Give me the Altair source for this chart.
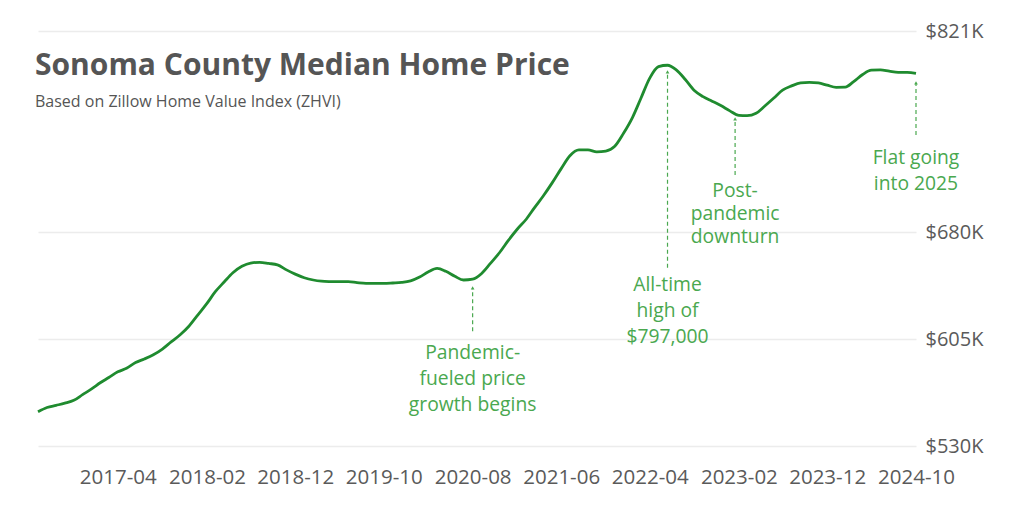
import altair as alt
import pandas as pd

# ---- data (values in $K, monthly from 2016-07 to 2024-10) ----
start = "2016-07-01"
values_k = [
    554, 557, 558.5, 560, 562, 566, 570, 574.5, 578, 582,
    584.5, 588.5, 591, 594, 598, 603, 608, 614, 622, 630,
    638, 645, 651.5, 656, 658.3, 658.8, 658, 657, 653.5, 650.5,
    648, 646.4, 645.6, 645.3, 645.2, 645.2, 644.6, 644.1, 644, 644,
    644.3, 644.7, 645.8, 648.5, 652, 654.5, 652.5, 649, 646.4, 647,
    651, 658, 665.5, 674, 682, 689, 697, 705.5, 714.5, 724.5,
    733.5, 737.6, 737.6, 736.3, 736.8, 740, 749.3, 760.5, 773.5, 788,
    796, 797, 793.7, 787, 779.3, 775, 771.8, 768.7, 765, 761.8,
    761.6, 763.3, 768.4, 774, 779.5, 782.5, 784.6, 785, 784.6, 783,
    781.5, 781.6, 785.5, 790.5, 793.5, 793.7, 792.8, 792, 792, 791.3,
]
dates = pd.date_range(start, periods=len(values_k), freq="MS").strftime("%Y/%m/%d").tolist()

y_ticks = [530, 605, 680, 821]
x_tick_dates = ["2017-04", "2018-02", "2018-12", "2019-10", "2020-08",
                "2021-06", "2022-04", "2023-02", "2023-12", "2024-10"]

title_text = "Sonoma County Median Home Price"
subtitle_text = "Based on Zillow Home Value Index (ZHVI)"

ann_dates = ["2020/08/01", "2022/06/01", "2023/01/19", "2024/10/01"]
ann_from = [610.5, 655.0, 720.0, 748.0]
ann_to = [640.8, 792.3, 759.3, 784.6]
ann_text_top = [601.2, 649.3, 715.3, 738.0]
ann_texts = ["Pandemic-\nfueled price\ngrowth begins",
             "All-time\nhigh of\n$797,000",
             "Post-\npandemic\ndownturn",
             "Flat going\ninto 2025"]
ann_line_height = [26, 26, 23, 26]

# ---- tables ----
df = pd.DataFrame({"date": dates, "value": values_k})
ann = pd.DataFrame({"date": ann_dates, "y1": ann_from, "y2": ann_to,
                    "ty": ann_text_top, "text": ann_texts, "lh": ann_line_height})

LINE = "#1f8b2f"
ANN = "#4aa84f"
GRAY = "#5a5a5a"
FONT = "Open Sans"

tick_vals = [alt.DateTime(year=int(s[:4]), month=int(s[5:]), date=1) for s in x_tick_dates]

x_enc = alt.X("date:T",
              scale=alt.Scale(domain=[alt.DateTime(year=2016, month=7, date=1),
                                      alt.DateTime(year=2024, month=10, date=1)]),
              axis=alt.Axis(values=tick_vals, labelExpr="timeFormat(datum.value, '%Y-%m')",
                            grid=False, domain=False, ticks=False, title=None,
                            labelFont=FONT, labelFontSize=20.5, labelColor=GRAY,
                            labelPadding=21, labelOverlap=False, labelFlush=False))
y_scale = alt.Scale(domain=[530, 821], nice=False, zero=False)

line = alt.Chart(df).mark_line(color=LINE, strokeWidth=2.8, interpolate="monotone").encode(
    x=x_enc,
    y=alt.Y("value:Q", scale=y_scale,
            axis=alt.Axis(orient="right", values=y_ticks, labelExpr="'$' + datum.value + 'K'",
                          domain=False, ticks=False, title=None, gridColor="#ececec",
                          gridWidth=1.5,
                          labelFont=FONT, labelFontSize=20, labelColor=GRAY,
                          labelPadding=9))
)

rules = alt.Chart(ann).mark_rule(color=ANN, strokeWidth=1.2, strokeDash=[4, 3]).encode(
    x="date:T", y=alt.Y("y1:Q", scale=y_scale), y2="y2:Q")

heads = alt.Chart(ann).mark_point(shape="triangle-up", filled=True, color=ANN, size=14,
                                  opacity=1).encode(
    x="date:T", y=alt.Y("y2:Q", scale=y_scale))

def ann_text(sub, lh):
    return alt.Chart(sub).mark_text(lineBreak="\n", align="center", baseline="top",
                                    font=FONT, fontSize=19.3, color=ANN,
                                    lineHeight=lh).encode(
        x="date:T", y=alt.Y("ty:Q", scale=y_scale), text="text:N")

texts = [ann_text(ann[ann.lh == lh], lh) for lh in sorted(set(ann_line_height))]

title = alt.Chart(pd.DataFrame({"t": [title_text]})).mark_text(
    align="left", baseline="middle", font=FONT, fontSize=30, fontWeight="bold",
    color="#555555").encode(x=alt.value(-3), y=alt.value(35), text="t:N")
subtitle = alt.Chart(pd.DataFrame({"t": [subtitle_text]})).mark_text(
    align="left", baseline="middle", font=FONT, fontSize=16,
    color="#555555").encode(x=alt.value(-3), y=alt.value(71), text="t:N")

chart = alt.layer(line, rules, heads, *texts, title, subtitle).properties(
    width=878, height=415,
    autosize=alt.AutoSizeParams(type="none"),
    padding={"left": 30, "top": 23, "right": 90, "bottom": 50},
    background="white",
).configure_view(stroke=None)

chart.save("out.html", embed_options={"renderer": "svg", "actions": False})
